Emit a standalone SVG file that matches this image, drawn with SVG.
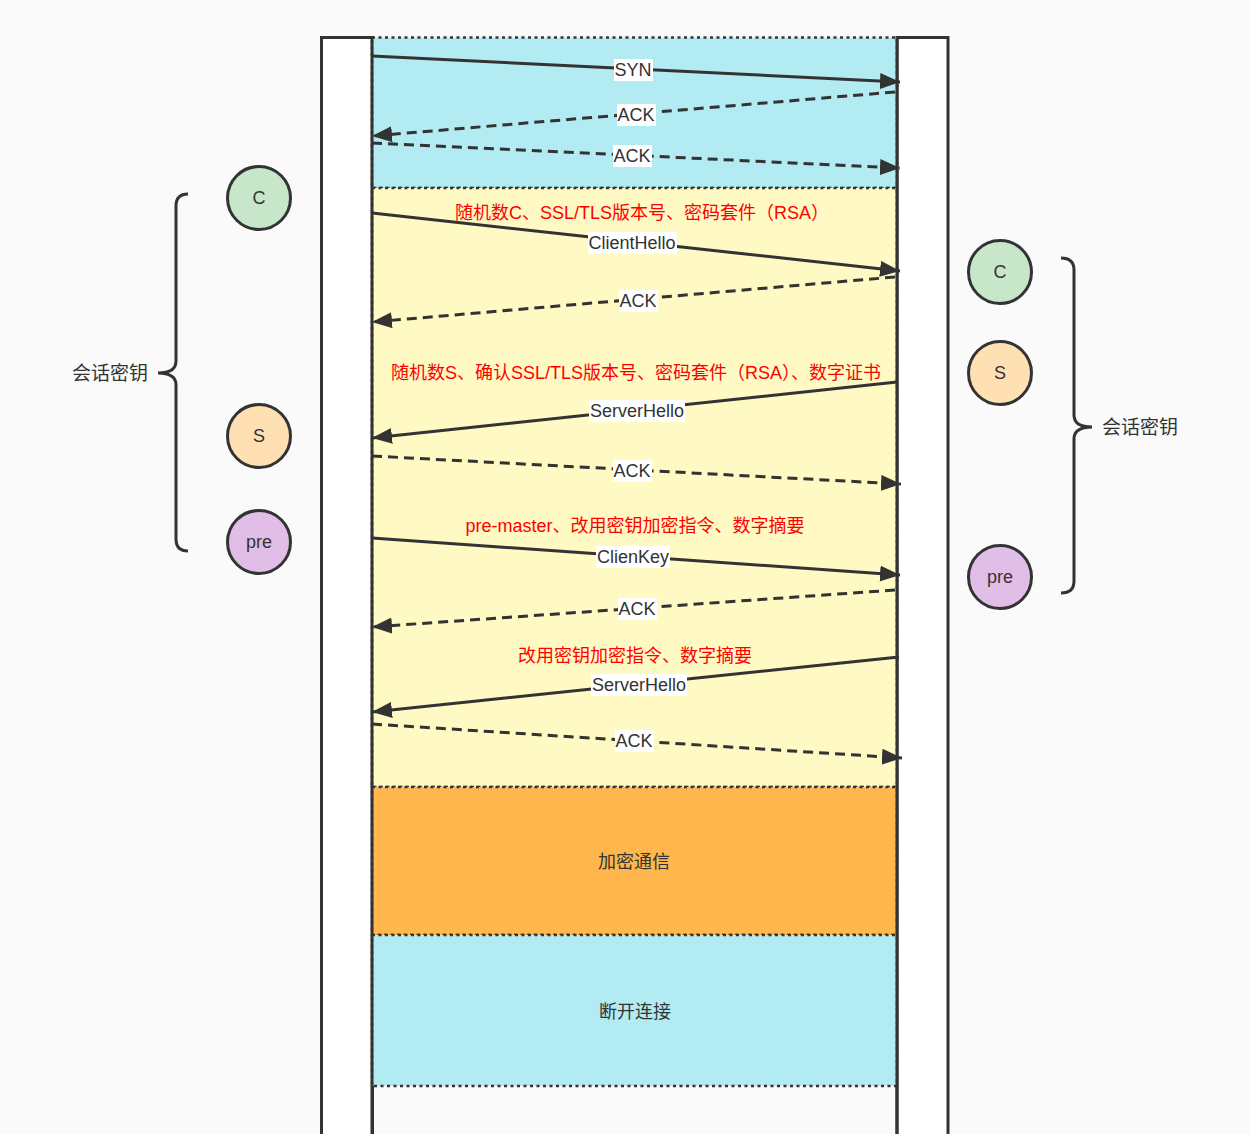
<svg xmlns="http://www.w3.org/2000/svg" width="1249" height="1134" viewBox="0 0 1249 1134">
<style>
text{font-family:"Liberation Sans","Noto Sans CJK SC",sans-serif;fill:#333;text-anchor:middle;dominant-baseline:central}
.red{fill:#ff0000;font-size:18px}
.lbl{font-size:18px}
.pillar{fill:#ffffff;stroke:#333;stroke-width:3}
.pedge{stroke:#333;stroke-width:3;fill:none}
.band{stroke:#333;stroke-width:2.5;stroke-dasharray:3 3.5}
.circ{stroke:#333;stroke-width:3}
.brace{fill:none;stroke:#333;stroke-width:3}
.solid{stroke:#333;stroke-width:3;fill:none;marker-end:url(#ah)}
.dash{stroke:#333;stroke-width:3;fill:none;stroke-dasharray:10 6;marker-end:url(#ah)}
.lb{fill:#ffffff}
</style>
<defs>
<marker id="ah" markerUnits="userSpaceOnUse" markerWidth="22" markerHeight="18" refX="20" refY="8" orient="auto">
<path d="M0,0 L20,8 L0,16 Z" fill="#333"/>
</marker>
</defs>
<rect x="0" y="0" width="1249" height="1134" fill="#fafafa"/>

<g id="client-lifeline"><rect class="pillar" x="321.5" y="37.5" width="51" height="1120"/></g>
<g id="server-lifeline"><rect class="pillar" x="897" y="37.5" width="51" height="1120"/></g>

<g id="band-tcp"><rect class="band" x="372" y="37.5" width="525" height="150.5" fill="#b2ebf2"/></g>
<g id="band-tls"><rect class="band" x="372" y="188" width="525" height="599" fill="#fff9c4"/></g>
<g id="band-encrypted"><rect class="band" x="372" y="787" width="525" height="148" fill="#ffb74d"/>
<text class="lbl" x="634" y="862">加密通信</text></g>
<g id="band-close"><rect class="band" x="372" y="935" width="525" height="151" fill="#b2ebf2"/>
<text class="lbl" x="635" y="1012">断开连接</text></g>

<g id="lifeline-edges">
<line class="pedge" x1="372" y1="37.5" x2="372" y2="1134"/>
<line class="pedge" x1="897" y1="37.5" x2="897" y2="1134"/>
</g>

<g id="connectors">
<line class="solid" x1="372" y1="56" x2="900" y2="82"/>
<line class="dash" x1="895" y1="92" x2="372" y2="136"/>
<line class="dash" x1="372" y1="143" x2="900" y2="168"/>
<line class="solid" x1="372" y1="213" x2="900" y2="271"/>
<line class="dash" x1="895" y1="277" x2="372" y2="322"/>
<line class="solid" x1="897" y1="382" x2="372" y2="438"/>
<line class="dash" x1="372" y1="456" x2="901" y2="484"/>
<line class="solid" x1="372" y1="538" x2="900" y2="575"/>
<line class="dash" x1="895" y1="590" x2="372" y2="627"/>
<line class="solid" x1="899" y1="657" x2="372" y2="712"/>
<line class="dash" x1="372" y1="724" x2="902" y2="758"/>
</g>

<g id="connector-labels">
<rect class="lb" x="614" y="59" width="39" height="22"/><text class="lbl" x="633" y="70">SYN</text>
<rect class="lb" x="617" y="104" width="39" height="22"/><text class="lbl" x="636" y="115">ACK</text>
<rect class="lb" x="613" y="145" width="39" height="22"/><text class="lbl" x="632" y="156">ACK</text>
<text class="red" x="642" y="213">随机数C、SSL/TLS版本号、密码套件（RSA）</text>
<rect class="lb" x="588" y="232" width="89" height="22"/><text class="lbl" x="632" y="243">ClientHello</text>
<rect class="lb" x="619" y="290" width="39" height="22"/><text class="lbl" x="638" y="301">ACK</text>
<text class="red" x="636" y="373">随机数S、确认SSL/TLS版本号、密码套件（RSA）、数字证书</text>
<rect class="lb" x="589" y="400" width="96" height="22"/><text class="lbl" x="637" y="411">ServerHello</text>
<rect class="lb" x="613" y="460" width="39" height="22"/><text class="lbl" x="632" y="471">ACK</text>
<text class="red" x="635" y="526">pre-master、改用密钥加密指令、数字摘要</text>
<rect class="lb" x="596" y="546" width="74" height="22"/><text class="lbl" x="633" y="557">ClienKey</text>
<rect class="lb" x="618" y="598" width="39" height="22"/><text class="lbl" x="637" y="609">ACK</text>
<text class="red" x="635" y="656">改用密钥加密指令、数字摘要</text>
<rect class="lb" x="591" y="674" width="96" height="22"/><text class="lbl" x="639" y="685">ServerHello</text>
<rect class="lb" x="615" y="730" width="39" height="22"/><text class="lbl" x="634" y="741">ACK</text>
</g>

<g id="client-key-c"><circle class="circ" cx="259" cy="198" r="31.5" fill="#c8e6c9"/><text class="lbl" x="259" y="198">C</text></g>
<g id="client-key-s"><circle class="circ" cx="259" cy="436" r="31.5" fill="#ffe0b2"/><text class="lbl" x="259" y="436">S</text></g>
<g id="client-key-pre"><circle class="circ" cx="259" cy="542" r="31.5" fill="#e1bee7"/><text class="lbl" x="259" y="542">pre</text></g>
<g id="client-session-key"><path class="brace" d="M188,194 Q176,194 176,206 L176,361 Q176,373 158,373 Q176,373 176,385 L176,539 Q176,551 188,551"/>
<text x="110" y="373" style="font-size:19px">会话密钥</text></g>

<g id="server-key-c"><circle class="circ" cx="1000" cy="272" r="31.5" fill="#c8e6c9"/><text class="lbl" x="1000" y="272">C</text></g>
<g id="server-key-s"><circle class="circ" cx="1000" cy="373" r="31.5" fill="#ffe0b2"/><text class="lbl" x="1000" y="373">S</text></g>
<g id="server-key-pre"><circle class="circ" cx="1000" cy="577" r="31.5" fill="#e1bee7"/><text class="lbl" x="1000" y="577">pre</text></g>
<g id="server-session-key"><path class="brace" d="M1061,258 Q1074,258 1074,270 L1074,415 Q1074,427 1092,427 Q1074,427 1074,439 L1074,581 Q1074,593 1061,593"/>
<text x="1140" y="427" style="font-size:19px">会话密钥</text></g>
</svg>
